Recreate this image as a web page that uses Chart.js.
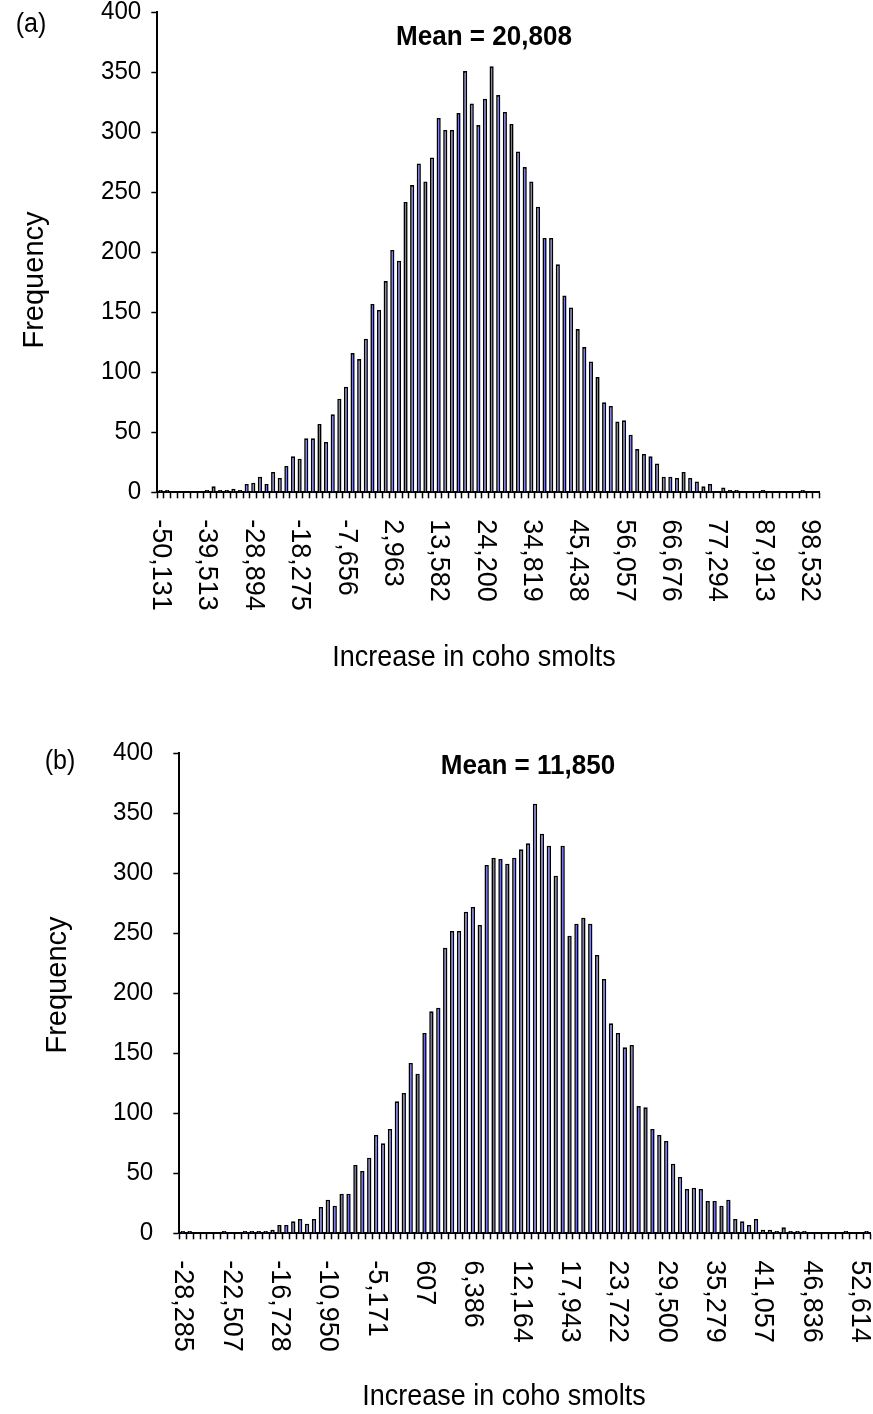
<!DOCTYPE html>
<html>
<head>
<meta charset="utf-8">
<title>Increase in coho smolts - frequency histograms</title>
<script src="https://cdn.jsdelivr.net/npm/chart.js@4.4.1/dist/chart.umd.min.js"></script>
<style>
  html, body { margin: 0; padding: 0; background: #fff; }
  #wrap { position: relative; width: 873px; height: 1414px; overflow: hidden; }
  #wrap canvas { position: absolute; left: 0; }
</style>
</head>
<body>
<div id="wrap">
  <canvas id="chartA" width="873" height="727" style="top:-20px"></canvas>
  <canvas id="chartB" width="873" height="707" style="top:707px"></canvas>
</div>
<script>
// ---- data (bin frequencies, 100 bins each) ----
const countsA = [
  2, 2, 0, 0, 0, 0, 0, 2, 5, 2,
  2, 3, 2, 7, 8, 13, 7, 17, 12, 22,
  30, 28, 45, 45, 57, 42, 65, 78, 88, 116,
  111, 128, 157, 152, 176, 202, 193, 242, 256, 274,
  259, 279, 312, 302, 302, 316, 351, 324, 306, 328,
  355, 331, 317, 307, 284, 271, 259, 238, 212, 212,
  190, 164, 154, 136, 121, 109, 96, 75, 72, 59,
  60, 48, 36, 32, 30, 24, 13, 13, 12, 17,
  12, 9, 5, 7, 0, 4, 2, 2, 0, 0,
  0, 2, 0, 0, 0, 0, 0, 2, 0, 0
];
const tickLabelsA = ['-50,131', '-39,513', '-28,894', '-18,275', '-7,656', '2,963', '13,582',
  '24,200', '34,819', '45,438', '56,057', '66,676', '77,294', '87,913', '98,532'];

const countsB = [
  2, 2, 0, 0, 0, 0, 2, 0, 0, 2,
  2, 2, 2, 3, 7, 7, 10, 12, 8, 12,
  22, 28, 23, 33, 33, 57, 52, 63, 82, 75,
  87, 110, 117, 142, 133, 167, 185, 188, 238, 252,
  252, 268, 272, 257, 307, 313, 312, 308, 313, 320,
  325, 358, 333, 323, 298, 323, 248, 258, 263, 258,
  232, 212, 175, 167, 155, 157, 106, 105, 87, 82,
  77, 58, 47, 37, 38, 37, 27, 27, 23, 28,
  12, 10, 7, 12, 3, 3, 2, 5, 2, 2,
  2, 0, 0, 0, 0, 0, 2, 0, 0, 2
];
const tickLabelsB = ['-28,285', '-22,507', '-16,728', '-10,950', '-5,171', '607', '6,386',
  '12,164', '17,943', '23,722', '29,500', '35,279', '41,057', '46,836', '52,614'];

const labelEvery = 7;           // one printed label per 7 bins
const yMax = 400, yStep = 50;
const xTitle = 'Increase in coho smolts';
const yTitle = 'Frequency';

const FONT = '"Liberation Sans", Arial, Helvetica, sans-serif';
const SX = 0.93;                // the source figure's text is a little condensed

// draw one string; rot = +1 turns it to read downwards, -1 upwards
function put(ctx, str, x, y, font, align, rot) {
  ctx.save();
  ctx.font = font;
  ctx.textAlign = align;
  ctx.textBaseline = 'middle';
  ctx.translate(x, y);
  if (rot) { ctx.rotate(rot * Math.PI / 2); } else { ctx.scale(SX, 1); }
  ctx.fillText(str, 0, 0);
  ctx.restore();
}

// all text is placed here so it sits where Excel put it
const extraText = {
  id: 'extraText',
  afterDraw(chart, args, o) {
    const { ctx, chartArea } = chart;
    const xs = chart.scales.x, ys = chart.scales.y;
    const off = o.canvasTop;
    ctx.save();
    ctx.fillStyle = '#000';

    // y tick labels
    ys.ticks.forEach(t => {
      put(ctx, String(t.value), chartArea.left - 6 - o.yTickPad, ys.getPixelForValue(t.value),
          `26px ${FONT}`, 'right', 0);
    });

    // category labels, turned to read downwards
    chart.data.labels.forEach((lab, i) => {
      if (!lab) return;
      put(ctx, lab, xs.getPixelForValue(i), chartArea.bottom + o.labelGap, `27px ${FONT}`, 'left', 1);
    });

    put(ctx, o.panel, o.panelX, o.panelY - off, `27px ${FONT}`, 'center', 0);
    put(ctx, o.mean, o.meanX, o.meanY - off, `bold 28px ${FONT}`, 'center', 0);
    put(ctx, xTitle, o.xTitleX, o.xTitleY - off, `29px ${FONT}`, 'center', 0);
    put(ctx, yTitle, o.yTitleX, o.yTitleY - off, `29px ${FONT}`, 'center', -1);

    ctx.restore();
  }
};

function histogram(id, counts, tickLabels, box, text) {
  const canvas = document.getElementById(id);
  const labels = counts.map((_, i) => (i % labelEvery === 0 ? (tickLabels[i / labelEvery] || '') : ''));
  const H = canvas.height;
  const top = box.top - text.canvasTop;
  const bottom = box.bottom - text.canvasTop;

  return new Chart(canvas, {
    type: 'bar',
    data: {
      labels,
      datasets: [{
        data: counts,
        backgroundColor: '#6e6ed8',
        borderColor: '#000',
        borderWidth: 1.6,
        borderSkipped: 'bottom',
        barPercentage: 0.63,
        categoryPercentage: 1
      }]
    },
    options: {
      responsive: false,
      animation: false,
      devicePixelRatio: 1,
      layout: { padding: { top: top, left: 0, right: canvas.width - box.right, bottom: 0 } },
      plugins: {
        legend: { display: false },
        tooltip: { enabled: false },
        extraText: text
      },
      scales: {
        x: {
          type: 'category',
          offset: true,
          grid: { display: true, offset: true, drawOnChartArea: false, drawTicks: true,
                  tickLength: 6, tickWidth: 1.5, tickColor: '#000' },
          border: { display: true, color: '#000', width: 2 },
          ticks: { display: false, autoSkip: false },
          afterFit(s) { s.height = H - bottom; }
        },
        y: {
          min: 0,
          max: yMax,
          grid: { display: true, drawOnChartArea: false, drawTicks: true,
                  tickLength: 6, tickWidth: 1.5, tickColor: '#000' },
          border: { display: true, color: '#000', width: 2 },
          ticks: { stepSize: yStep, display: false },
          afterFit(s) { s.width = box.left; }
        }
      }
    },
    plugins: [extraText]
  });
}

histogram('chartA', countsA, tickLabelsA,
  { left: 157.3, right: 819.3, top: 12.3, bottom: 492.3 },
  { canvasTop: -20, labelGap: 27, yTickPad: 10,
    panel: '(a)', panelX: 31, panelY: 25,
    mean: 'Mean = 20,808', meanX: 484, meanY: 37,
    xTitleX: 474, xTitleY: 658, yTitleX: 35, yTitleY: 280 });

histogram('chartB', countsB, tickLabelsB,
  { left: 179.3, right: 870, top: 753.3, bottom: 1233.3 },
  { canvasTop: 707, labelGap: 27, yTickPad: 20,
    panel: '(b)', panelX: 60, panelY: 762,
    mean: 'Mean = 11,850', meanX: 528, meanY: 766,
    xTitleX: 504, xTitleY: 1397, yTitleX: 58, yTitleY: 985 });
</script>
</body>
</html>
